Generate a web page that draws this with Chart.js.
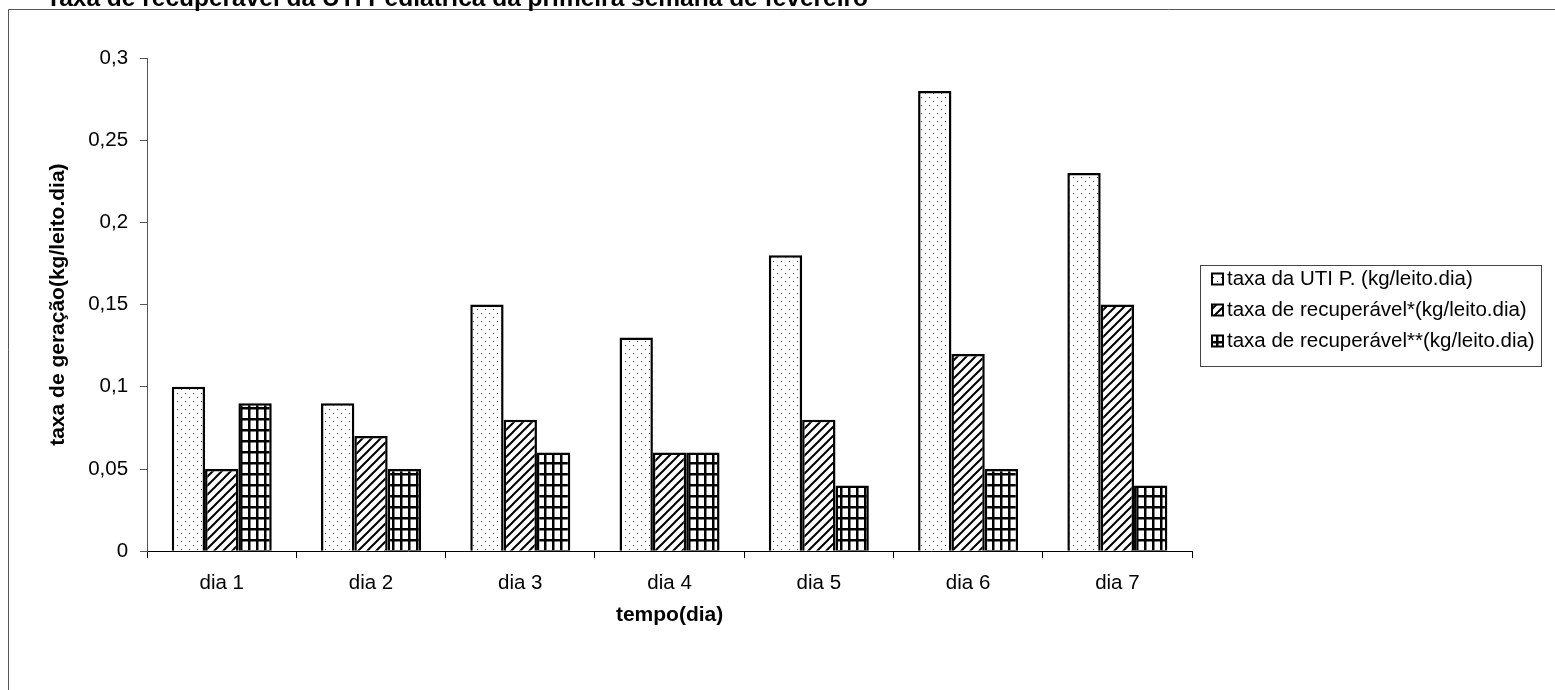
<!DOCTYPE html>
<html><head><meta charset="utf-8">
<script src="https://cdn.jsdelivr.net/npm/chart.js@4/dist/chart.umd.min.js"></script>
<style>html,body{margin:0;padding:0;background:#fff;} #wrap{position:relative;width:1555px;height:690px;}</style>
</head><body><div id="wrap"><canvas id="c" width="1555" height="690"></canvas></div>
<script>
const chartTitle = 'Taxa de recuperável da UTI Pediátrica da primeira semana de fevereiro';
const categories = ['dia 1', 'dia 2', 'dia 3', 'dia 4', 'dia 5', 'dia 6', 'dia 7'];
const seriesNames = ['taxa da UTI P. (kg/leito.dia)', 'taxa de recuperável*(kg/leito.dia)', 'taxa de recuperável**(kg/leito.dia)'];
const utiValues = [0.10, 0.09, 0.15, 0.13, 0.18, 0.28, 0.23];
const recuperavel1Values = [0.05, 0.07, 0.08, 0.06, 0.08, 0.12, 0.15];
const recuperavel2Values = [0.09, 0.05, 0.06, 0.06, 0.04, 0.05, 0.04];
const yAxisTitle = 'taxa de geração(kg/leito.dia)';
const xAxisTitle = 'tempo(dia)';

const FONT = "'Liberation Sans', Arial, sans-serif";

function makePattern(w, h, draw) {
  const c = document.createElement('canvas');
  c.width = w; c.height = h;
  const g = c.getContext('2d');
  g.fillStyle = '#fff'; g.fillRect(0, 0, w, h);
  draw(g, w, h);
  return g.createPattern(c, 'repeat');
}
const ctx = document.getElementById('c').getContext('2d');
const dotPattern = makePattern(8, 8, (g) => {
  g.fillStyle = '#333';
  g.fillRect(1, 1, 1, 1);
  g.fillRect(5, 5, 1, 1);
});
const hatchPattern = makePattern(9, 9, (g, w, h) => {
  g.strokeStyle = '#000'; g.lineWidth = 2;
  g.beginPath();
  g.moveTo(-2, h + 2); g.lineTo(w + 2, -2);
  g.moveTo(-2, 2); g.lineTo(2, -2);
  g.moveTo(w - 2, h + 2); g.lineTo(w + 2, h - 2);
  g.stroke();
});
const gridPattern = makePattern(8, 11, (g, w, h) => {
  g.fillStyle = '#000';
  g.fillRect(0, 0, 2.5, h);
  g.fillRect(0, 0, w, 2.5);
});

// legend layout (style only)
const LEG = { boxLeft: 1200, boxTop: 265, boxRight: 1541, boxBottom: 366, markerX: 1212, markerSize: 11, textX: 1227, firstRow: 279, rowStep: 31, fontSize: 20.5 };

const framePlugin = {
  id: 'frame',
  beforeDraw(chart) {
    const g = chart.ctx;
    g.save();
    g.fillStyle = '#fff';
    g.fillRect(0, 0, chart.width, chart.height);
    g.strokeStyle = '#555'; g.lineWidth = 1;
    g.beginPath();
    g.moveTo(8.5, 690); g.lineTo(8.5, 9.5); g.lineTo(1555, 9.5);
    g.stroke();
    g.restore();
  },
  afterDraw(chart) {
    const g = chart.ctx;
    g.save();
    g.fillStyle = '#000';
    g.font = 'bold 24.5px ' + FONT;
    g.textBaseline = 'alphabetic';
    g.textAlign = 'left';
    g.fillText(chartTitle, 46, 6);
    // legend
    g.strokeStyle = '#444'; g.lineWidth = 1;
    g.strokeRect(LEG.boxLeft + 0.5, LEG.boxTop + 0.5, LEG.boxRight - LEG.boxLeft, LEG.boxBottom - LEG.boxTop);
    g.font = LEG.fontSize + 'px ' + FONT;
    g.textBaseline = 'middle';
    chart.data.datasets.forEach((ds, i) => {
      const cy = LEG.firstRow + i * LEG.rowStep;
      const s = LEG.markerSize;
      g.fillStyle = ds.backgroundColor;
      g.fillRect(LEG.markerX, cy - s / 2, s, s);
      g.strokeStyle = '#000'; g.lineWidth = 2;
      g.strokeRect(LEG.markerX, cy - s / 2, s, s);
      g.fillStyle = '#000';
      g.fillText(ds.label, LEG.textX, cy);
    });
    g.restore();
  }
};

new Chart(ctx, {
  type: 'bar',
  data: {
    labels: categories,
    datasets: [
      { label: seriesNames[0], data: utiValues, backgroundColor: dotPattern, borderColor: '#000', borderWidth: 2.5 },
      { label: seriesNames[1], data: recuperavel1Values, backgroundColor: hatchPattern, borderColor: '#000', borderWidth: 2.5 },
      { label: seriesNames[2], data: recuperavel2Values, backgroundColor: gridPattern, borderColor: '#000', borderWidth: 2.5 }
    ]
  },
  options: {
    responsive: false,
    devicePixelRatio: 1,
    animation: false,
    layout: { padding: { left: 42, top: 58, right: 363, bottom: 58 } },
    datasets: { bar: { barPercentage: 1, categoryPercentage: 0.67 } },
    plugins: {
      tooltip: { enabled: false },
      legend: { display: false }
    },
    scales: {
      x: {
        grid: { display: true, drawOnChartArea: false, drawTicks: true, tickLength: 7, color: '#000', offset: true },
        border: { color: '#000', width: 1 },
        ticks: { color: '#000', padding: 13, font: { family: FONT, size: 20.5 } },
        title: { display: true, text: xAxisTitle, color: '#000', font: { family: FONT, size: 21, weight: 'bold' }, padding: { top: -6, bottom: 4 } }
      },
      y: {
        min: 0, max: 0.3,
        grid: { display: true, drawOnChartArea: false, drawTicks: true, tickLength: 7, color: '#555' },
        border: { color: '#555', width: 1 },
        ticks: {
          stepSize: 0.05, color: '#000', padding: 12, font: { family: FONT, size: 20.5 },
          callback: (v) => String(Math.round(v * 100) / 100).replace('.', ',')
        },
        title: { display: true, text: yAxisTitle, color: '#000', font: { family: FONT, size: 21, weight: 'bold' }, padding: { top: 4, bottom: 5 } }
      }
    }
  },
  plugins: [framePlugin]
});
</script>
</body></html>
